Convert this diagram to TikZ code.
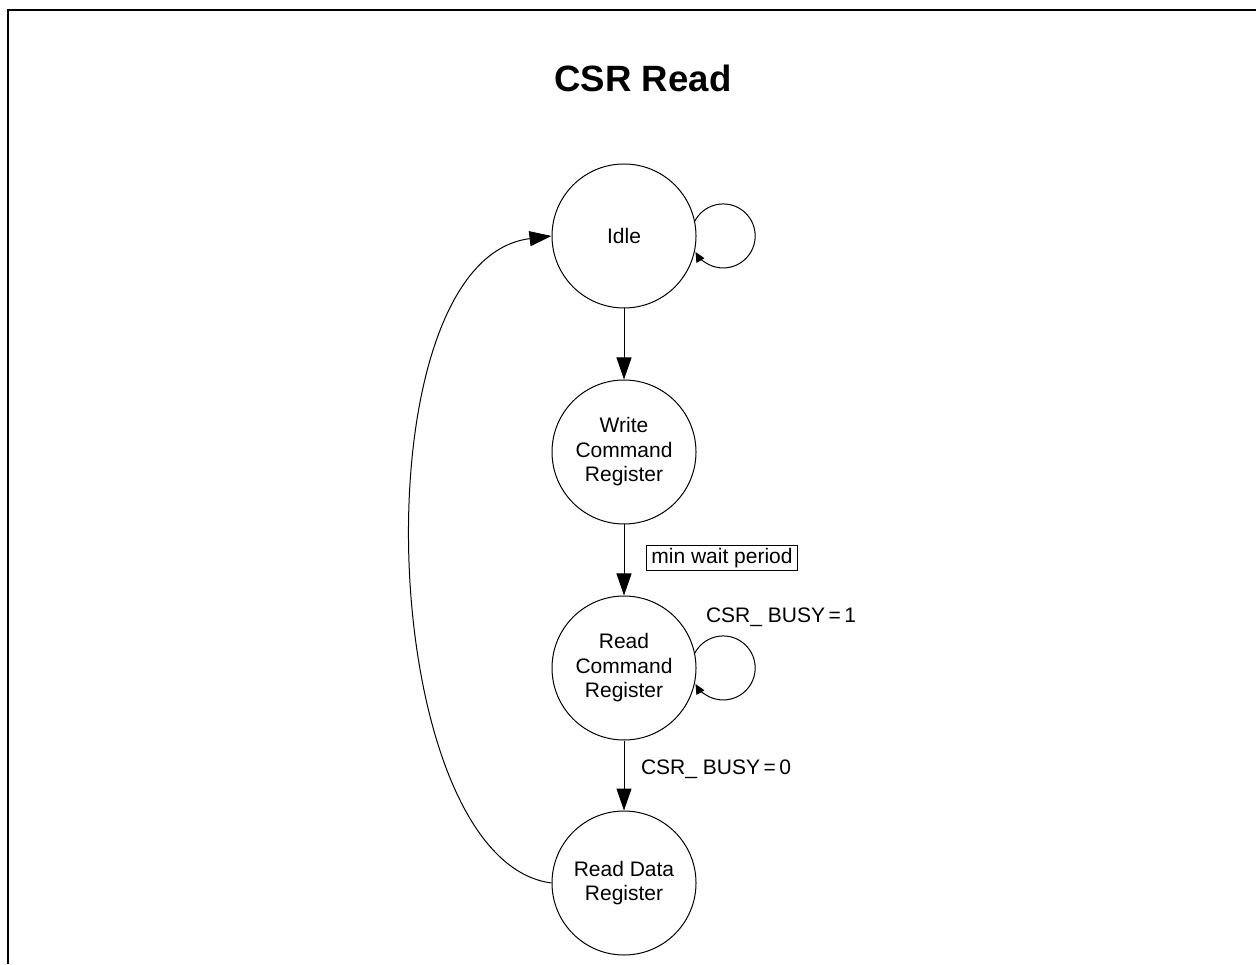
\documentclass[tikz,border=0pt]{standalone}
\usepackage{fontspec}
\setmainfont{Liberation Sans}
\usetikzlibrary{arrows.meta}
\begin{document}
\begin{tikzpicture}[x=0.5pt,y=0.5pt,
  state/.style={draw,circle,line width=0.5pt,minimum size=72pt,inner sep=0pt,align=center,
    font=\fontsize{10.5}{12.25}\selectfont},
  lbl/.style={font=\fontsize{10.5}{12.25}\selectfont,inner sep=0pt},
  boxlbl/.style={draw,line width=0.5pt,font=\fontsize{10.5}{12.25}\selectfont,inner xsep=2.6pt,inner ysep=1.4pt},
  bigarrow/.style={line width=0.5pt,-{Triangle[length=11pt,width=7.5pt]}},
  smallarrow/.style={line width=0.5pt,-{Triangle[length=5pt,width=4.5pt]}}]
\useasboundingbox (0,0) rectangle (1256,964);
\draw[line width=1pt] (8,0) -- (8,954) -- (1256,954);
\node[font=\bfseries\fontsize{18.3}{22}\selectfont] (title) at (643,886) {CSR Read};
\node[state] (idle) at (624,728) {Idle};
\node[state] (wr) at (624,512) {Write\\Command\\Register};
\node[state] (rc) at (624,296) {Read\\Command\\Register};
\node[state] (rd) at (624,81) {Read Data\\Register};
\draw[bigarrow] (idle) -- (wr);
\draw[bigarrow] (wr) -- (rc);
\draw[bigarrow] (rc) -- (rd);
\node[boxlbl] (mw) at (722,406) {min wait period};
\node[lbl] (b1) at (781,347) {CSR\_ BUSY\,=\,1};
\node[lbl] (b0) at (716,195) {CSR\_ BUSY\,=\,0};
\draw[smallarrow] (idle.12) arc[start angle=152,end angle=-150,radius=32];
\draw[smallarrow] (rc.12) arc[start angle=152,end angle=-150,radius=32];
\draw[bigarrow] (rd.west) .. controls (375,104) and (355,704) .. (idle.west);
\end{tikzpicture}
\end{document}
